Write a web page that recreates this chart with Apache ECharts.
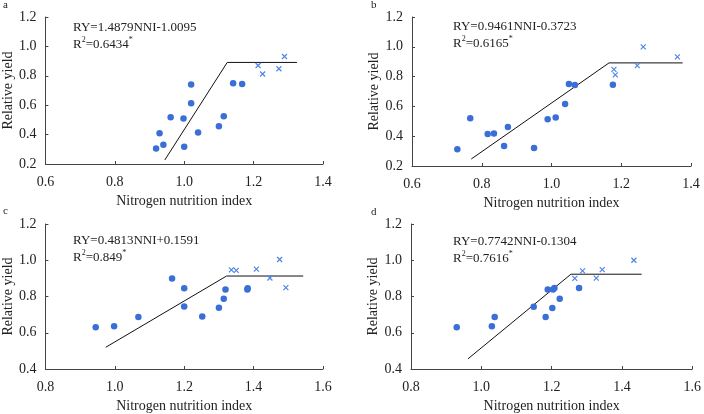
<!DOCTYPE html>
<html>
<head>
<meta charset="utf-8">
<script src="https://cdn.jsdelivr.net/npm/echarts@6/dist/echarts.min.js"></script>
<style>
  html, body { margin: 0; padding: 0; background: #fff; }
  #main { width: 704px; height: 414px; }
</style>
</head>
<body>
<div id="main"></div>
<script>
// panel a
var aDots = [[0.919,0.306],[0.929,0.41],[0.94,0.331],[0.961,0.518],[0.998,0.509],[1.0,0.317],
  [1.02,0.74],[1.02,0.613],[1.04,0.414],[1.1,0.457],[1.114,0.525],[1.141,0.749],[1.167,0.744]];
var aCross = [[1.213,0.87],[1.226,0.812],[1.273,0.848],[1.289,0.931]];
var aLine = [[0.944,0.227],[1.124,0.891],[1.325,0.891]];
// panel b
var bDots = [[0.73,0.312],[0.767,0.521],[0.817,0.414],[0.835,0.418],[0.875,0.461],[0.864,0.334],
  [0.95,0.321],[0.989,0.513],[1.012,0.526],[1.039,0.616],[1.05,0.75],[1.067,0.743],[1.176,0.746]];
var bCross = [[1.179,0.848],[1.183,0.812],[1.246,0.874],[1.263,0.999],[1.361,0.932]];
var bLine = [[0.77,0.247],[1.165,0.892],[1.376,0.892]];
// panel c
var cDots = [[0.945,0.631],[0.998,0.636],[1.068,0.687],[1.165,0.9],[1.2,0.845],[1.2,0.745],
  [1.252,0.689],[1.3,0.738],[1.314,0.787],[1.319,0.838],[1.382,0.838],[1.383,0.845]];
var cCross = [[1.336,0.947],[1.35,0.944],[1.408,0.951],[1.447,0.902],[1.475,1.004],[1.493,0.849]];
var cLine = [[0.974,0.52],[1.322,0.913],[1.543,0.913]];
// panel d
var dDots = [[0.93,0.63],[1.03,0.636],[1.038,0.687],[1.149,0.744],[1.183,0.687],[1.189,0.838],
  [1.202,0.737],[1.204,0.838],[1.208,0.847],[1.223,0.788],[1.278,0.847]];
var dCross = [[1.266,0.9],[1.288,0.941],[1.327,0.901],[1.344,0.948],[1.434,1.0]];
var dLine = [[0.962,0.456],[1.255,0.923],[1.456,0.923]];

var equations = ['RY=1.4879NNI-1.0095', 'RY=0.9461NNI-0.3723', 'RY=0.4813NNI+0.1591', 'RY=0.7742NNI-0.1304'];
var r2 = ['0.6434', '0.6165', '0.849', '0.7616'];
var panelNames = ['a', 'b', 'c', 'd'];
var xRanges = [[0.6, 1.4], [0.6, 1.4], [0.8, 1.6], [0.8, 1.6]];
var yRanges = [[0.2, 1.2], [0.2, 1.2], [0.4, 1.2], [0.4, 1.2]];

var serif = '"Liberation Serif", "Times New Roman", serif';
var dotColor = '#3a6fd8';
var crossColor = '#4f86e6';
var axisColor = '#444';

var grids = [
  { left: 45, top: 17, width: 278, height: 147 },
  { left: 412, top: 17, width: 279, height: 149 },
  { left: 45, top: 224, width: 278, height: 146 },
  { left: 411, top: 224, width: 283, height: 148 }
];
var eqPos = [[73, 19], [453, 18], [73, 232], [453, 233]];
var labelPos = [[3, 0], [371, 0], [3, 206], [371, 207]];

var dots = [aDots, bDots, cDots, dDots];
var crosses = [aCross, bCross, cCross, dCross];
var lines = [aLine, bLine, cLine, dLine];

var xAxes = [], yAxes = [], series = [], titles = [];
for (var i = 0; i < 4; i++) {
  xAxes.push({
    gridIndex: i, type: 'value', min: xRanges[i][0], max: xRanges[i][1], interval: 0.2,
    name: 'Nitrogen nutrition index', nameLocation: 'middle', nameGap: 30,
    nameTextStyle: { fontFamily: serif, fontSize: 14, color: '#222' },
    axisLine: { lineStyle: { color: axisColor, width: 1 } },
    axisTick: { inside: true, length: 3, lineStyle: { color: axisColor } },
    axisLabel: { fontFamily: serif, fontSize: 14, color: '#222', margin: 11,
      formatter: function (v) { return v.toFixed(1); } },
    splitLine: { show: false }
  });
  yAxes.push({
    gridIndex: i, type: 'value', min: yRanges[i][0], max: yRanges[i][1], interval: 0.2,
    name: 'Relative yield', nameLocation: 'middle', nameGap: 30,
    nameTextStyle: { fontFamily: serif, fontSize: 14, color: '#222' },
    axisLine: { show: true, lineStyle: { color: axisColor, width: 1 } },
    axisTick: { show: true, inside: true, length: 3, lineStyle: { color: axisColor } },
    axisLabel: { fontFamily: serif, fontSize: 14, color: '#222', margin: 9,
      formatter: function (v) { return v.toFixed(1); } },
    splitLine: { show: false }
  });
  series.push({
    type: 'scatter', xAxisIndex: i, yAxisIndex: i, data: dots[i],
    symbol: 'circle', symbolSize: 6.5, itemStyle: { color: dotColor, opacity: 1 }
  });
  series.push({
    type: 'scatter', xAxisIndex: i, yAxisIndex: i, data: crosses[i],
    symbol: 'path://M0,0L10,10M10,0L0,10', symbolSize: 5,
    itemStyle: { color: 'transparent', borderColor: crossColor, borderWidth: 1.2, opacity: 1 }
  });
  series.push({
    type: 'line', xAxisIndex: i, yAxisIndex: i, data: lines[i], symbol: 'none',
    lineStyle: { color: '#111', width: 1 }, z: 1
  });
  titles.push({
    left: eqPos[i][0], top: eqPos[i][1], padding: 0,
    text: equations[i] + '\nR{sup|2}=' + r2[i] + '{sup|*}',
    textStyle: {
      fontFamily: serif, fontSize: 13, fontWeight: 'normal', color: '#222', lineHeight: 17,
      rich: { sup: { fontFamily: serif, fontSize: 8, verticalAlign: 'top', lineHeight: 17, padding: [0, 0, 6, 0], color: '#222' } }
    }
  });
  titles.push({
    left: labelPos[i][0], top: labelPos[i][1], text: panelNames[i], padding: 0,
    textStyle: { fontFamily: serif, fontSize: 11, fontWeight: 'normal', color: '#222' }
  });
}

var chart = echarts.init(document.getElementById('main'));
chart.setOption({
  animation: false,
  backgroundColor: '#fff',
  title: titles,
  grid: grids,
  xAxis: xAxes,
  yAxis: yAxes,
  series: series
});
</script>
</body>
</html>
